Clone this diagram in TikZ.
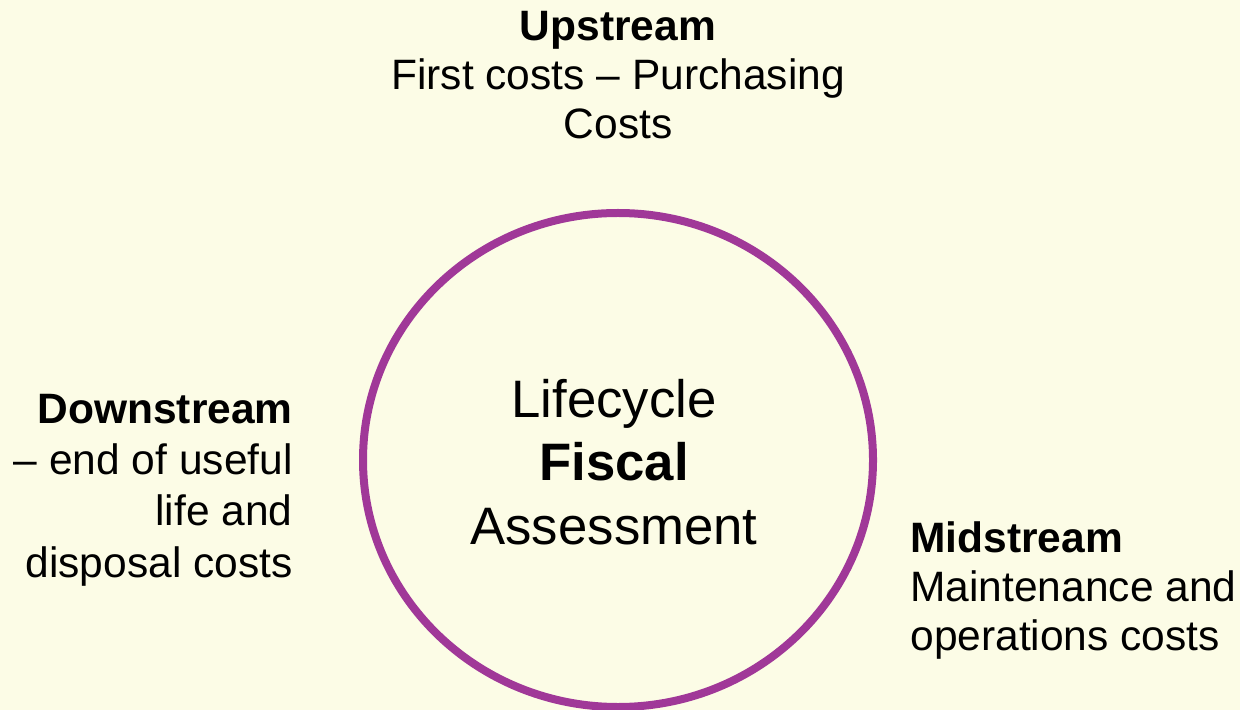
\documentclass[tikz,border=0pt]{standalone}
\usepackage{fontspec}
\setmainfont{Liberation Sans}
\usetikzlibrary{shapes.geometric}
\definecolor{cream}{RGB}{252,252,230}
\definecolor{plum}{RGB}{160,56,152}
\begin{document}
\begin{tikzpicture}[x=0.5pt,y=-0.5pt,
    stage/.style={inner sep=0pt,font=\fontsize{21.25pt}{24.5pt}\selectfont},
    ring/.style={ellipse,draw=plum,line width=4pt,inner sep=0pt,
        minimum width=255pt,minimum height=247pt},
    core/.style={inner sep=0pt,align=center,
        font=\fontsize{26.35pt}{31.75pt}\selectfont}]
    \fill[cream] (0,0) rectangle (1240,710);
    \useasboundingbox (0,0) rectangle (1240,710);
    \node (cycle) [ring] at (618,460) {};
    \node (lfa) [core,anchor=base] at (614,544) {Lifecycle\\\textbf{Fiscal}\\Assessment};
    \node (up) [stage,align=center,anchor=base] at (618,139)
        {\textbf{Upstream}\\First costs -- Purchasing\\Costs};
    \node (down) [stage,align=right,anchor=base east,
        font=\fontsize{21.25pt}{25.6pt}\selectfont] at (293,577)
        {\textbf{Downstream}\\-- end of useful\\life and\\disposal costs};
    \node (mid) [stage,align=left,anchor=base west] at (910,650)
        {\textbf{Midstream}\\Maintenance and\\operations costs};
\end{tikzpicture}
\end{document}
